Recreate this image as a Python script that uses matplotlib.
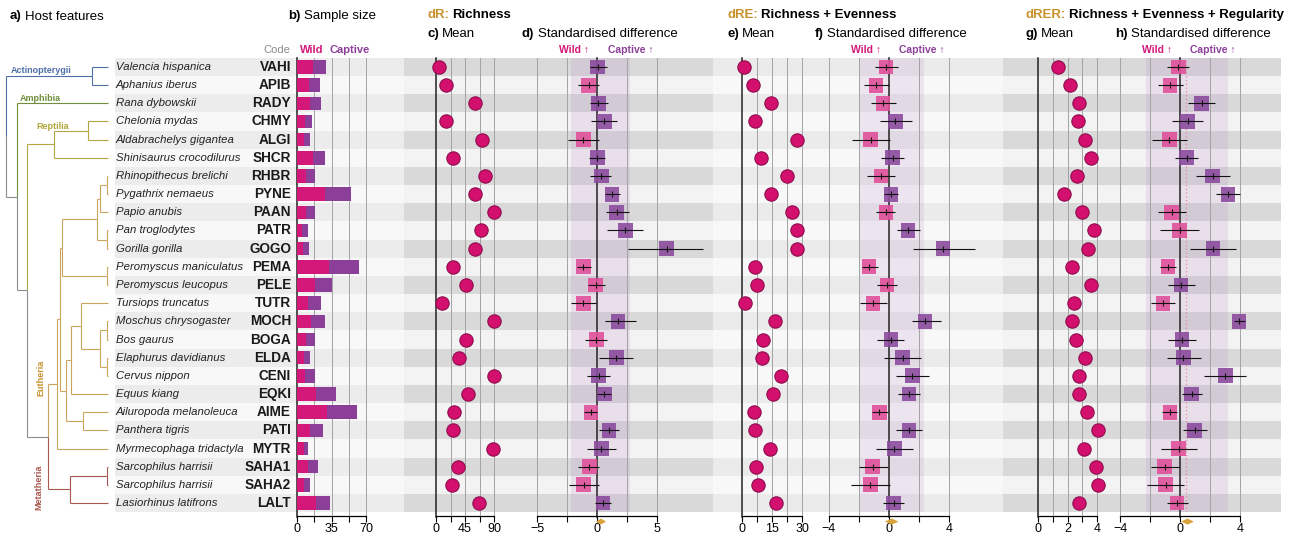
import numpy as np
import matplotlib.pyplot as plt
from matplotlib.transforms import blended_transform_factory

plt.rcParams['font.family'] = ['Liberation Sans', 'DejaVu Sans']

# ---- data -------------------------------------------------------------
codes = ['VAHI', 'APIB', 'RADY', 'CHMY', 'ALGI', 'SHCR', 'RHBR', 'PYNE', 'PAAN',
         'PATR', 'GOGO', 'PEMA', 'PELE', 'TUTR', 'MOCH', 'BOGA', 'ELDA', 'CENI',
         'EQKI', 'AIME', 'PATI', 'MYTR', 'SAHA1', 'SAHA2', 'LALT']
species = ['Valencia hispanica', 'Aphanius iberus', 'Rana dybowskii', 'Chelonia mydas',
           'Aldabrachelys gigantea', 'Shinisaurus crocodilurus', 'Rhinopithecus brelichi',
           'Pygathrix nemaeus', 'Papio anubis', 'Pan troglodytes', 'Gorilla gorilla',
           'Peromyscus maniculatus', 'Peromyscus leucopus', 'Tursiops truncatus',
           'Moschus chrysogaster', 'Bos gaurus', 'Elaphurus davidianus', 'Cervus nippon',
           'Equus kiang', 'Ailuropoda melanoleuca', 'Panthera tigris',
           'Myrmecophaga tridactyla', 'Sarcophilus harrisii', 'Sarcophilus harrisii',
           'Lasiorhinus latifrons']

n_wild = [16, 12, 13, 8, 7, 16, 9, 28, 9, 5, 6, 32, 18, 11, 14, 9, 7, 8, 19, 30, 13, 7, 11, 7, 19]
n_captive = [13, 11, 11, 7, 6, 12, 9, 27, 9, 6, 6, 31, 17, 13, 14, 9, 6, 10, 21, 31, 13, 4, 10, 6, 14]

# dR: richness
mean_r = [4, 16, 60, 16, 71, 27, 75, 60, 90, 70, 60, 26, 46, 9, 90, 47, 36, 89, 50, 28, 27, 88, 34, 25, 66]
diff_r = [0.05, -0.7, 0.1, 0.6, -1.15, 0.02, 0.35, 1.25, 1.65, 2.35, 5.8, -1.15, -0.1, -1.15,
          1.75, -0.05, 1.6, 0.15, 0.6, -0.5, 1.0, 0.35, -0.65, -1.1, 0.5]
lo_r = [-0.6, -1.55, -0.6, -0.5, -2.4, -0.65, -0.6, 0.7, 0.75, 0.8, 2.6, -1.7, -0.75, -2.2,
        0.65, -1.0, 0.2, -0.8, 0.0, -1.05, 0.15, -0.8, -1.55, -2.3, -0.2]
hi_r = [0.8, 0.17, 0.9, 1.65, 0.17, 0.7, 1.2, 1.9, 2.7, 3.8, 8.8, -0.5, 0.65, -0.1,
        3.25, 0.85, 3.0, 1.1, 1.15, 0.0, 1.8, 1.6, 0.2, 0.2, 1.15]

# dRE: richness + evenness
mean_re = [1.0, 5.7, 14.3, 6.5, 27.7, 9.3, 22.7, 14.5, 25, 27.5, 27.5, 6.5, 7.5, 1.5, 16.5,
           10.7, 10.2, 19.3, 15.3, 6.2, 6.5, 14, 6.8, 8.2, 17]
diff_re = [-0.2, -0.87, -0.4, 0.42, -1.22, 0.25, -0.53, 0.13, -0.2, 1.27, 3.6, -1.33, -0.13,
           -1.07, 2.4, 0.13, 0.9, 1.55, 1.33, -0.65, 1.33, 0.35, -1.09, -1.25, 0.31]
lo_re = [-0.93, -1.7, -1.2, -0.6, -2.5, -0.53, -1.45, -0.35, -0.87, 0.55, 1.6, -1.8, -0.8,
         -1.93, 1.53, -0.8, -0.33, 0.45, 0.62, -1.15, 0.45, -0.87, -2.0, -2.55, -0.42]
hi_re = [0.58, 0.0, 0.45, 1.5, 0.07, 1.0, 0.4, 0.6, 0.4, 2.05, 5.7, -0.73, 0.53, -0.13,
         3.47, 1.0, 2.13, 2.67, 2.07, -0.09, 2.2, 1.62, -0.09, 0.09, 1.02]

# dRER: richness + evenness + regularity
mean_rer = [1.37, 2.16, 2.75, 2.7, 3.22, 3.58, 2.64, 1.75, 3.0, 3.8, 3.4, 2.3, 3.6, 2.45, 2.3,
            2.6, 3.18, 2.75, 2.8, 3.33, 4.07, 3.1, 3.9, 4.07, 2.77]
diff_rer = [-0.11, -0.67, 1.45, 0.51, -0.71, 0.45, 2.18, 3.2, -0.55, -0.02, 2.2, -0.8, 0.07,
            -1.13, 3.93, 0.13, 0.22, 3.02, 0.78, -0.67, 0.98, -0.09, -1.02, -0.96, -0.2]
lo_rer = [-0.85, -1.5, 0.55, -0.51, -1.89, -0.33, 1.05, 2.4, -1.47, -1.33, 0.67, -1.33, -0.8,
          -1.93, 3.6, -0.8, -0.89, 1.6, 0.11, -1.18, 0.18, -1.27, -1.93, -2.18, -0.89]
hi_rer = [0.62, 0.18, 2.33, 1.51, 0.45, 1.22, 3.33, 4.0, 0.4, 1.27, 3.73, -0.27, 1.0, -0.33,
          4.3, 1.07, 1.38, 4.4, 1.45, -0.18, 1.78, 1.11, -0.07, 0.27, 0.51]

# overall effect (diamond centre, half width) and shaded interval per metric
overall = {'r': (0.33, 0.42), 're': (0.18, 0.45), 'rer': (0.5, 0.43)}
shade = {'r': (-2.2, 2.75), 're': (-2.0, 2.3), 'rer': (-2.3, 3.2)}

# phylogeny: node -> (children, x position, colour)
FISH, AMPH, REPT, EUTH, META, ROOT = '#4f6fa8', '#6f8f3a', '#b3a63e', '#c9a55c', '#a8574e', '#8c8c8c'
tree = {
    'root': (['fish', 'tetrapoda'], 6, ROOT),
    'fish': (['VAHI', 'APIB'], 92, FISH),
    'tetrapoda': (['amphibia', 'amniota'], 17, ROOT),
    'amphibia': (['RADY'], 17, AMPH),
    'amniota': (['reptilia', 'mammalia'], 27, ROOT),
    'reptilia': (['testudines', 'SHCR'], 54, REPT),
    'testudines': (['CHMY', 'ALGI'], 88, REPT),
    'mammalia': (['eutheria', 'metatheria'], 48, ROOT),
    'eutheria': (['boreo', 'MYTR'], 57, EUTH),
    'boreo': (['euarchontoglires', 'laurasiatheria'], 60, EUTH),
    'euarchontoglires': (['primates', 'rodentia'], 62, EUTH),
    'primates': (['cercopithecidae', 'hominidae'], 97, EUTH),
    'cercopithecidae': (['colobinae', 'PAAN'], 100, EUTH),
    'colobinae': (['RHBR', 'PYNE'], 107, EUTH),
    'hominidae': (['PATR', 'GOGO'], 107, EUTH),
    'rodentia': (['PEMA', 'PELE'], 107, EUTH),
    'laurasiatheria': (['ungulata', 'carnivora'], 66, EUTH),
    'ungulata': (['cetartiodactyla', 'EQKI'], 71, EUTH),
    'cetartiodactyla': (['TUTR', 'ruminantia'], 81, EUTH),
    'ruminantia': (['bovidae', 'cervidae'], 100, EUTH),
    'bovidae': (['MOCH', 'BOGA'], 107, EUTH),
    'cervidae': (['ELDA', 'CENI'], 107, EUTH),
    'carnivora': (['AIME', 'PATI'], 83, EUTH),
    'metatheria': (['sarcophilus', 'LALT'], 70, META),
    'sarcophilus': (['SAHA1', 'SAHA2'], 107, META),
}
TIP_X = 108

# ---- layout -----------------------------------------------------------
W, H = 1298, 534
fig = plt.figure(figsize=(W / 100, H / 100), dpi=100)
ax_bg = fig.add_axes([0, 0, 1, 1])
ax_bg.set_axis_off()
n = len(codes)
rows = np.arange(n)
ROW_TOP, ROW_BOT = 57.9, 512.1

WILD_C, CAPT_C = '#d4187a', '#8c3f98'
SQ_WILD, SQ_CAPT = '#e0509a', '#8c4c9e'
GOLD = '#c8902a'


def add_panel(x0, x1, zero=None, ppu=None):
    ax = fig.add_axes([x0 / W, 1 - ROW_BOT / H, (x1 - x0) / W, (ROW_BOT - ROW_TOP) / H])
    ax.set_ylim(n - 0.5, -0.5)
    if zero is not None:
        ax.set_xlim((x0 - zero) / ppu, (x1 - zero) / ppu)
    for s in ax.spines.values():
        s.set_visible(False)
    ax.set_xticks([])
    ax.set_yticks([])
    return ax


def bands(ax, dark, light):
    for i in rows:
        ax.axhspan(i - 0.5, i + 0.5, color=dark if i % 2 == 0 else light, lw=0, zorder=0)


def fmt(v):
    return ('%g' % v).replace('-', '\u2212')


def x_axis(ax, ticks, labelled):
    sp = ax.spines['bottom']
    sp.set_visible(True)
    sp.set_position(('outward', 3))
    sp.set_bounds(ticks[0], ticks[-1])
    sp.set_linewidth(0.9)
    ax.set_xticks(ticks)
    ax.set_xticklabels([fmt(t) if t in labelled else '' for t in ticks])
    ax.tick_params(axis='x', length=4, width=0.8, pad=1, labelsize=9)
    ext = -4.5 / (ROW_BOT - ROW_TOP)
    for t in ticks:
        if t == 0:
            ax.axvline(0, ymin=ext, ymax=1, color='#222222', lw=1.1, zorder=2, clip_on=False)
        else:
            ax.axvline(t, ymin=ext, ymax=1, color='#a3a3a3', lw=0.7, zorder=1, clip_on=False)


def ftext(x, y, s, **kw):
    return ax_bg.text(x / W, 1 - y / H, s, va='center', transform=ax_bg.transAxes, **kw)


def ftext2(x, y, s1, s2, c1='black', c2='black', w2='normal', size=9.5):
    # bold lead-in followed by the rest of the heading
    t1 = ftext(x, y, s1, fontsize=size, fontweight='bold', color=c1)
    ax_bg.annotate(s2, xy=(1, 0.5), xycoords=t1, xytext=(2.6, 0), textcoords='offset points',
                   va='center', ha='left', fontsize=size, fontweight=w2, color=c2)
    return t1


# ---- tree -------------------------------------------------------------
ax_t = add_panel(0, 115)
ax_t.set_xlim(0, 115)
row_of = {c: i for i, c in enumerate(codes)}


def node_y(name):
    if name in row_of:
        return row_of[name]
    return np.mean([node_y(c) for c in tree[name][0]])


def node_colour(name, parent):
    return tree[name][2] if name in tree else tree[parent][2]


for name, (children, x, col) in tree.items():
    y = node_y(name)
    for c in children:
        yc = node_y(c)
        xc = tree[c][1] if c in tree else TIP_X
        cc = node_colour(c, name)
        ax_t.plot([x, x], [y, yc], color=cc, lw=0.8, solid_capstyle='butt')
        ax_t.plot([x, xc], [yc, yc], color=cc, lw=0.8, solid_capstyle='butt')


def prow(ypx):
    return (ypx - 67) / 18.17


clade_kw = dict(fontsize=6.5, fontweight='bold', va='center')
ax_t.text(11, prow(70.5), 'Actinopterygii', color=FISH, **clade_kw)
ax_t.text(20, prow(99), 'Amphibia', color=AMPH, **clade_kw)
ax_t.text(36, prow(126.5), 'Reptilia', color=REPT, **clade_kw)
ax_t.text(41, prow(378), 'Eutheria', color=GOLD, rotation=90, ha='center', **clade_kw)
ax_t.text(38.5, prow(487), 'Metatheria', color=META, rotation=90, ha='center', **clade_kw)

# ---- species names and codes ---------------------------------------------
ax_l = add_panel(115, 297)
ax_l.set_xlim(115, 297)
bands(ax_l, '#ececec', '#f8f8f8')
for i in rows:
    ax_l.text(116, i, species[i], fontsize=8.2, style='italic', va='center', color='#222222')
    ax_l.text(291, i, codes[i], fontsize=9.8, fontweight='bold', va='center', ha='right',
              color='#1a1a1a')

# ---- b) sample size -------------------------------------------------------
ax_b = add_panel(297, 404, zero=297, ppu=69 / 70)
bands(ax_b, '#ececec', '#f8f8f8')
x_axis(ax_b, [0, 17.5, 35, 52.5, 70], [0, 35, 70])
ax_b.barh(rows, n_wild, height=0.74, color=WILD_C, lw=0, zorder=3)
ax_b.barh(rows, n_captive, left=n_wild, height=0.74, color=CAPT_C, lw=0, zorder=3)


# ---- metric panels ------------------------------------------------------
def mean_panel(x0, x1, zero, ppu, vals, ticks, labelled, dark, light):
    ax = add_panel(x0, x1, zero, ppu)
    bands(ax, dark, light)
    x_axis(ax, ticks, labelled)
    ax.scatter(vals, rows, s=92, marker='o', color='#d4106f', edgecolor='#8e0b4c',
               lw=0.8, zorder=4)
    return ax


def diff_panel(x0, x1, zero, ppu, d, lo, hi, key, ticks, labelled, dark, light):
    ax = add_panel(x0, x1, zero, ppu)
    bands(ax, dark, light)
    a, b = shade[key]
    ax.axvspan(a, b, color='#b27cc2', alpha=0.16, lw=0, zorder=0.5)
    x_axis(ax, ticks, labelled)
    d = np.asarray(d)
    cols = np.where(d < 0, SQ_WILD, SQ_CAPT)
    ax.scatter(d, rows, s=112, marker='s', c=cols, alpha=0.9, lw=0, zorder=3)
    ax.hlines(rows, lo, hi, color='#111111', lw=0.8, zorder=4)
    ax.scatter(d, rows, s=22, marker='|', color='#111111', lw=0.8, zorder=5)
    c, hw = overall[key]
    tr = blended_transform_factory(ax.transData, ax.transAxes)
    hgt = 6 / (ROW_BOT - ROW_TOP)
    yc = -9.5 / (ROW_BOT - ROW_TOP)
    ax.fill([c - hw, c, c + hw, c], [yc, yc + hgt / 2, yc, yc - hgt / 2], color='#d9a23a',
            transform=tr, clip_on=False, zorder=6, lw=0)
    return ax


DARK, LIGHT = '#d9d9d9', '#f3f3f3'
DARK2, LIGHT2 = '#ebebeb', '#f8f8f8'

mean_panel(404, 515, 436, 58.2 / 90, mean_r, [0, 22.5, 45, 67.5, 90], [0, 45, 90], DARK, LIGHT)
diff_panel(515, 713, 597, 12, diff_r, lo_r, hi_r, 'r', [-5, -2.5, 0, 2.5, 5], [-5, 0, 5],
           DARK, LIGHT)

mean_panel(713, 815, 742, 2, mean_re, [0, 7.5, 15, 22.5, 30], [0, 15, 30], DARK2, LIGHT2)
diff_panel(815, 1003, 889, 15, diff_re, lo_re, hi_re, 're', [-4, -2, 0, 2, 4], [-4, 0, 4],
           DARK2, LIGHT2)

mean_panel(1003, 1110, 1038, 14.75, mean_rer, [0, 1, 2, 3, 4], [0, 2, 4], DARK, LIGHT)
ax_h = diff_panel(1110, 1281, 1180, 15, diff_rer, lo_rer, hi_rer, 'rer', [-4, -2, 0, 2, 4],
                  [-4, 0, 4], DARK, LIGHT)
ax_h.axvline(overall['rer'][0] - 0.1, color='#e58aa0', lw=0.9, ls=(0, (1, 2)), zorder=1.5)

# ---- headings -------------------------------------------------------------
ftext2(10, 16.5, 'a)', 'Host features')
ftext2(288, 16.5, 'b)', 'Sample size')
ftext(290, 50, 'Code', fontsize=8, color='#8a8a8a', ha='right')
ftext(300, 50, 'Wild', fontsize=8, fontweight='bold', color=WILD_C)
ftext(330, 50, 'Captive', fontsize=8, fontweight='bold', color=CAPT_C)

headers = [(427, 522, 559, 608, 'dR:', 'Richness', 'c)', 'd)'),
           (727, 815, 851, 899, 'dRE:', 'Richness + Evenness', 'e)', 'f)'),
           (1025, 1115, 1142, 1190, 'dRER:', 'Richness + Evenness + Regularity', 'g)', 'h)')]
for xm, xd, xw, xc, key, title, lm, ld in headers:
    ftext2(xm, 15, key, title, c1=GOLD, w2='bold')
    ftext2(xm, 34, lm, 'Mean')
    ftext2(xd, 34, ld, 'Standardised difference')
    ftext(xw, 50, 'Wild \u2191', fontsize=7.5, fontweight='bold', color=WILD_C)
    ftext(xc, 50, 'Captive \u2191', fontsize=7.5, fontweight='bold', color=CAPT_C)

fig.savefig('out.png', dpi=100)
